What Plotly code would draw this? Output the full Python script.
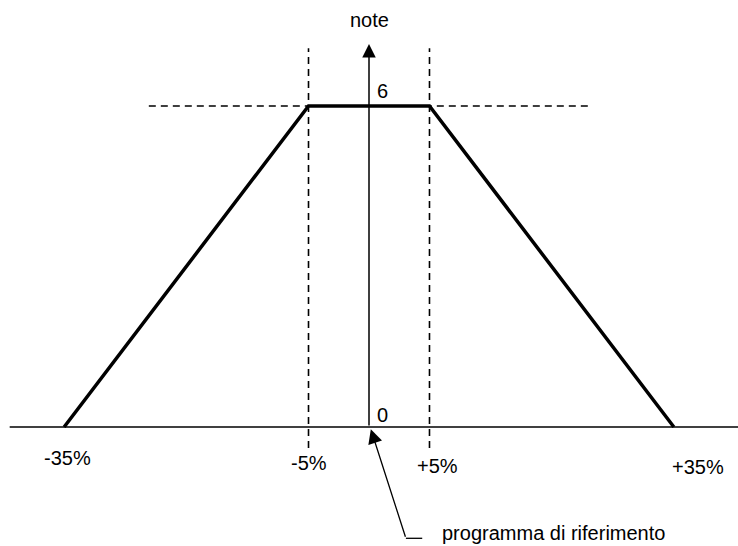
import plotly.graph_objects as go

# schematic: score (note) against deviation from the reference programme
pct_labels = ["-35%", "-5%", "+5%", "+35%"]
x_pos = [-25.2, -5, 5, 25.2]      # where each deviation sits on the drawing
note_values = [0, 6, 6, 0]
y_tick_labels = ["0", "6"]
y_tick_values = [0, 6]
axis_title = "note"
pointer_text = "programma di riferimento"

FONT = dict(family="Liberation Sans, Arial, sans-serif", size=20, color="black")
DASH = "7px,5px"

fig = go.Figure()

# trapezoid
fig.add_trace(
    go.Scatter(
        x=x_pos,
        y=note_values,
        mode="lines",
        line=dict(color="black", width=3.5),
        hoverinfo="skip",
        showlegend=False,
    )
)

# horizontal axis
fig.add_shape(type="line", x0=-29.7, x1=30.5, y0=0, y1=0,
              line=dict(color="black", width=1.5))

# dashed guides at -5% / +5% and at note 6
for xv in x_pos[1:3]:
    fig.add_shape(type="line", x0=xv, x1=xv, y0=-0.39, y1=7.08,
                  line=dict(color="black", width=1.6, dash=DASH))
fig.add_shape(type="line", x0=-18.2, x1=18.3, y0=y_tick_values[1], y1=y_tick_values[1],
              line=dict(color="black", width=1.6, dash=DASH))

# vertical axis with arrow
fig.add_annotation(
    x=0, y=7.16, ax=0, ay=0,
    xref="x", yref="y", axref="x", ayref="y",
    showarrow=True, arrowhead=2, arrowsize=1.8, arrowwidth=1.5,
    arrowcolor="black", text="",
)
fig.add_annotation(x=0, y=7.61, text=axis_title, showarrow=False, font=FONT)

# y labels
for val, lab, dy in zip(y_tick_values, y_tick_labels, [0.22, 0.28]):
    fig.add_annotation(x=1.1, y=val + dy, text=lab, showarrow=False, font=FONT)

# percentage labels under the axis
label_offsets = [(0.3, -0.58), (0, -0.67), (0.7, -0.73), (2.0, -0.75)]
for xv, lab, (dx, dy) in zip(x_pos, pct_labels, label_offsets):
    fig.add_annotation(x=xv + dx, y=dy, text=lab, showarrow=False, font=FONT)

# pointer to the reference programme
fig.add_annotation(
    x=0.15, y=-0.04, ax=3.05, ay=-2.08,
    xref="x", yref="y", axref="x", ayref="y",
    showarrow=True, arrowhead=2, arrowsize=2.2, arrowwidth=1.3,
    arrowcolor="black", text="",
)
fig.add_shape(type="line", x0=3.05, x1=4.4, y0=-2.08, y1=-2.08,
              line=dict(color="black", width=1.3))
fig.add_annotation(x=5.85, y=-1.99, text=pointer_text, showarrow=False,
                   xanchor="left", font=FONT)

fig.update_layout(
    width=738,
    height=546,
    margin=dict(l=0, r=0, t=0, b=0),
    plot_bgcolor="white",
    paper_bgcolor="white",
    showlegend=False,
)
fig.update_xaxes(range=[-30.5, 30.5], visible=False)
fig.update_yaxes(range=[-2.224, 7.981], visible=False)

fig.write_html(
    "out.html",
    config=dict(displayModeBar=False),
    post_script="document.body.style.margin='0';document.body.style.overflow='hidden';",
)
